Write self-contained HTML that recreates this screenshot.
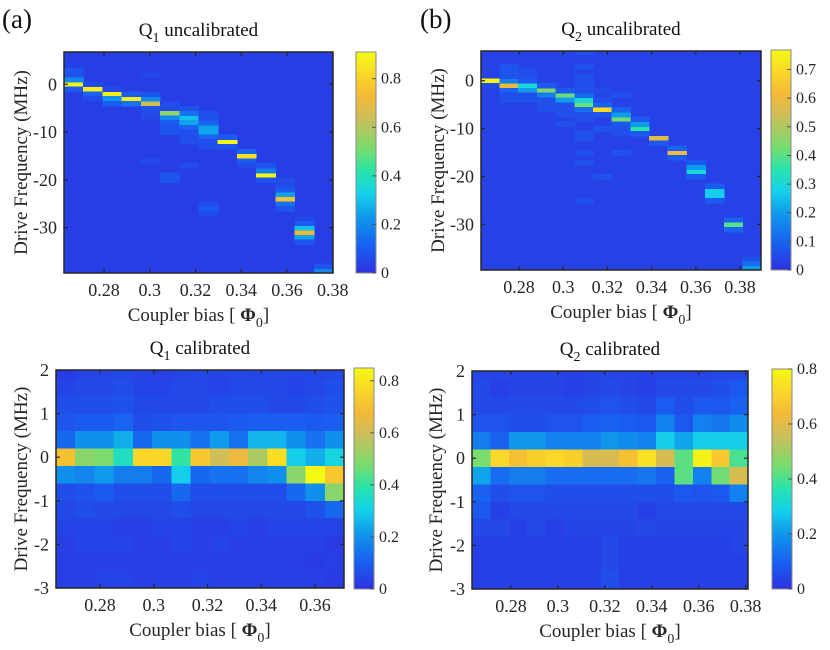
<!DOCTYPE html>
<html><head><meta charset="utf-8"><style>
html,body{margin:0;padding:0;background:#fff;}
svg{display:block;font-family:"Liberation Serif","DejaVu Serif",serif;}
svg text{font-family:"Liberation Serif","DejaVu Serif",serif;}
</style></head><body>
<svg id="fig" width="830" height="650" viewBox="0 0 830 650" xmlns="http://www.w3.org/2000/svg" font-family="Liberation Serif, DejaVu Serif, serif"></svg>
<script>
// ---------- DATA ----------
const biasA = [0.2667,0.2751,0.2835,0.2919,0.3003,0.3087,0.3171,0.3255,0.3339,0.3423,0.3507,0.3591,0.3675,0.3759];
const cellsA = [ // [col, freq(MHz), value]
[0,0,0.9],[0,1,0.2],[0,2,0.08],[0,3,0.08],[0,-1,0.1],
[1,-1,0.88],[1,-2,0.12],[1,-3,0.06],[1,0,0.06],
[2,-2,0.88],[2,-3,0.22],[2,-4,0.1],[2,-1,0.05],
[3,-3,0.88],[3,-4,0.15],[3,-2,0.1],
[4,-4,0.65],[4,-3,0.2],[4,-2,0.08],[4,-5,0.08],[4,-6,0.06],[4,-7,0.05],[4,2,0.05],[4,-16,0.06],
[5,-6,0.55],[5,-7,0.2],[5,-8,0.1],[5,-9,0.08],[5,-10,0.08],[5,-5,0.06],[5,-4,0.06],[5,-19,0.08],[5,-20,0.08],
[6,-7,0.3],[6,-8,0.25],[6,-6,0.15],[6,-9,0.12],[6,-5,0.08],[6,-10,0.07],[6,-11,0.07],[6,-12,0.07],[6,-17,0.06],
[7,-9,0.25],[7,-10,0.25],[7,-8,0.12],[7,-11,0.12],[7,-6,0.07],[7,-7,0.07],[7,-12,0.07],[7,-13,0.07],[7,-26,0.1],[7,-25,0.06],[7,-27,0.06],
[8,-12,0.9],[8,-11,0.1],[8,-13,0.08],
[9,-15,0.85],[9,-14,0.12],[9,-16,0.1],[9,-17,0.06],
[10,-19,0.9],[10,-18,0.18],[10,-17,0.08],[10,-20,0.08],
[11,-24,0.75],[11,-23,0.25],[11,-22,0.1],[11,-25,0.15],[11,-26,0.08],[11,-21,0.06],[11,-20,0.06],
[12,-31,0.72],[12,-30,0.3],[12,-32,0.25],[12,-29,0.1],[12,-33,0.08],[12,-28,0.05],
[13,-39,0.2],[13,-38,0.08]];
const biasB = [0.2670,0.2755,0.2839,0.2924,0.3008,0.3093,0.3177,0.3262,0.3346,0.3431,0.3515,0.3600,0.3684,0.3769,0.3853];
const cellsB = [
[0,0,0.76],[0,-1,0.05],
[1,-1,0.6],[1,0,0.15],[1,1,0.07],[1,2,0.07],[1,3,0.07],[1,-2,0.1],[1,-3,0.06],[1,-4,0.06],
[2,-1,0.3],[2,-2,0.2],[2,0,0.08],[2,1,0.06],[2,2,0.06],[2,-3,0.06],[2,-4,0.06],
[3,-2,0.45],[3,-3,0.15],[3,-1,0.08],[3,-4,0.06],[3,-5,0.06],[3,-6,0.06],
[4,-3,0.42],[4,-4,0.2],[4,-2,0.08],[4,-5,0.06],[4,-6,0.06],[4,-7,0.06],[4,-9,0.06],
[5,-5,0.42],[5,-4,0.3],[5,-3,0.12],[5,-6,0.12],[5,6,0.06],[5,3,0.06],[5,0,0.06],[5,1,0.06],[5,-1,0.06],[5,-2,0.06],[5,-7,0.06],[5,-8,0.06],[5,-11,0.06],[5,-12,0.06],[5,-15,0.06],[5,-17,0.06],[5,-25,0.06],
[6,-6,0.7],[6,-5,0.1],[6,-7,0.07],[6,-4,0.06],[6,-10,0.07],[6,-20,0.07],[6,-2,0.05],
[7,-8,0.42],[7,-7,0.2],[7,-6,0.1],[7,-9,0.08],[7,-10,0.06],[7,-11,0.06],[7,-15,0.07],[7,-3,0.06],
[8,-10,0.35],[8,-9,0.2],[8,-8,0.08],[8,-11,0.08],
[9,-12,0.58],[9,-13,0.08],
[10,-15,0.6],[10,-14,0.1],[10,-16,0.08],
[11,-19,0.3],[11,-18,0.2],[11,-17,0.08],[11,-20,0.08],
[12,-23,0.27],[12,-24,0.27],[12,-22,0.08],[12,-25,0.08],
[13,-30,0.4],[13,-29,0.1],[13,-31,0.1],
[14,-39,0.2],[14,-38,0.12],[14,-37,0.06]];
const biasC = [0.2672,0.2743,0.2815,0.2886,0.2958,0.3029,0.3101,0.3172,0.3244,0.3315,0.3387,0.3458,0.3530,0.3601,0.3673];
const freqCal = [2.0,1.6,1.2,0.8,0.4,0,-0.4,-0.8,-1.2,-1.6,-2.0,-2.4,-2.8];
const gridC = [
[.02,.04,.04,.05,.04,.03,.04,.05,.04,.05,.04,.05,.05,.04,.05],
[.04,.05,.05,.06,.04,.04,.05,.05,.04,.05,.05,.05,.04,.05,.06],
[.06,.06,.06,.07,.05,.05,.05,.05,.06,.06,.06,.05,.05,.06,.07],
[.08,.09,.09,.11,.06,.07,.08,.08,.08,.09,.10,.10,.10,.09,.10],
[.12,.2,.2,.25,.12,.2,.2,.14,.22,.14,.26,.26,.2,.14,.2],
[.7,.5,.48,.36,.76,.76,.4,.72,.6,.66,.55,.78,.3,.25,.32],
[.2,.18,.22,.16,.16,.12,.3,.12,.14,.14,.18,.2,.5,.85,.72],
[.06,.07,.09,.06,.06,.06,.12,.06,.06,.06,.06,.06,.12,.2,.5],
[.05,.06,.05,.05,.05,.05,.06,.05,.05,.05,.05,.05,.05,.07,.12],
[.04,.04,.04,.03,.03,.04,.04,.03,.03,.04,.03,.04,.04,.04,.04],
[.03,.04,.04,.04,.03,.03,.04,.03,.04,.03,.03,.03,.03,.03,.02],
[.03,.03,.03,.03,.03,.03,.03,.03,.03,.03,.03,.03,.03,.02,.03],
[.03,.03,.04,.04,.03,.03,.03,.04,.03,.03,.03,.03,.03,.03,.02]];
const biasD = [0.2673,0.2751,0.2830,0.2908,0.2987,0.3065,0.3144,0.3222,0.3300,0.3379,0.3457,0.3536,0.3614,0.3693,0.3771];
const gridD = [
[.04,.04,.04,.04,.04,.03,.04,.04,.04,.03,.04,.04,.04,.05,.05],
[.05,.03,.04,.04,.04,.03,.04,.05,.04,.03,.05,.05,.05,.06,.08],
[.05,.05,.05,.05,.05,.05,.06,.07,.06,.05,.09,.06,.08,.08,.1],
[.07,.07,.06,.06,.07,.07,.09,.1,.09,.08,.16,.08,.16,.14,.18],
[.15,.1,.2,.2,.16,.16,.16,.2,.18,.16,.28,.22,.28,.28,.28],
[.45,.72,.66,.7,.72,.7,.58,.58,.66,.74,.58,.42,.78,.68,.4],
[.22,.12,.15,.15,.12,.12,.12,.12,.12,.14,.1,.42,.16,.44,.58],
[.1,.06,.07,.07,.06,.06,.06,.06,.06,.06,.06,.08,.07,.08,.16],
[.08,.03,.05,.05,.05,.05,.05,.05,.05,.03,.05,.05,.05,.05,.05],
[.05,.05,.03,.05,.03,.04,.04,.04,.04,.05,.04,.04,.04,.04,.04],
[.03,.03,.03,.03,.03,.03,.03,.05,.03,.03,.03,.03,.03,.03,.04],
[.03,.03,.03,.03,.03,.03,.03,.05,.03,.03,.03,.03,.03,.03,.03],
[.03,.03,.03,.03,.03,.03,.03,.06,.03,.03,.03,.03,.03,.03,.03]];
const xTicksTop = [0.28,0.3,0.32,0.34,0.36,0.38];
const xTicksC = [0.28,0.3,0.32,0.34,0.36];
const yTicksUncal = [0,-10,-20,-30];
const yTicksCal = [2,1,0,-1,-2,-3];
const cbTicksA = [0,0.2,0.4,0.6,0.8];
const cbTicksB = [0,0.1,0.2,0.3,0.4,0.5,0.6,0.7];
const cbTicksC = [0,0.2,0.4,0.6,0.8];
const cbTicksD = [0,0.2,0.4,0.6,0.8];
const uncalBackground = 0.03;

// ---------- helpers ----------
const NS = 'http://www.w3.org/2000/svg';
const FONT = '"Liberation Serif","DejaVu Serif",serif';
const svg = document.getElementById('fig');
const stops = [[0,[45,50,225]],[0.12,[25,95,240]],[0.25,[15,150,235]],[0.36,[20,210,235]],[0.46,[40,228,170]],[0.56,[120,220,110]],[0.7,[205,190,90]],[0.8,[245,185,55]],[0.9,[250,215,40]],[1,[245,250,20]]];
function cmap(t){t=Math.max(0,Math.min(1,t));for(let i=1;i<stops.length;i++){if(t<=stops[i][0]){const a=stops[i-1],b=stops[i];const f=(t-a[0])/(b[0]-a[0]);const c=a[1].map((v,k)=>Math.round(v+(b[1][k]-v)*f));return `rgb(${c[0]},${c[1]},${c[2]})`;}}return 'rgb(245,250,20)';}
function mk(tag,attrs,parent){const e=document.createElementNS(NS,tag);for(const k in attrs)e.setAttribute(k,attrs[k]);if(tag==='text')e.style.fontFamily=FONT;(parent||svg).appendChild(e);return e;}
function fmt(v){return (Math.round(v*100)/100).toString();}

function panel(p){
  const g=mk('g',{});
  
  
  const sx=v=>p.x0+(v-p.xd[0])/(p.xd[1]-p.xd[0])*(p.x1-p.x0);
  const sy=v=>p.y1-(v-p.yd[0])/(p.yd[1]-p.yd[0])*(p.y1-p.y0);
  const clip='clip-'+p.name;
  const cp=mk('clipPath',{id:clip},g);
  mk('rect',{x:p.x0,y:p.y0,width:p.x1-p.x0,height:p.y1-p.y0},cp);
  const hm=mk('g',{'clip-path':`url(#${clip})`,'shape-rendering':'crispEdges'},g);
  
  
  const bias=p.bias;
  const w=bias[1]-bias[0];
  const cellRect=(ci,f,h,v)=>{
    const xa=sx(bias[ci]-w/2), xb=sx(bias[ci]+w/2);
    const ya=sy(f+h/2), yb=sy(f-h/2);
    const r=mk('rect',{x:xa.toFixed(2),y:ya.toFixed(2),width:(xb-xa+0.6).toFixed(2),height:(yb-ya+0.6).toFixed(2),fill:cmap(v/p.cmax)},hm);
    
    
  };
  if(p.cells){
    const bg=mk('rect',{x:p.x0,y:p.y0,width:p.x1-p.x0,height:p.y1-p.y0,fill:cmap(uncalBackground/p.cmax)},hm);
    
    
    p.cells.forEach(c=>cellRect(c[0],c[1],1,c[2]));
  } else {
    p.grid.forEach((row,ri)=>row.forEach((v,ci)=>cellRect(ci,p.freqs[ri],0.4,v)));
  }
  const box=mk('rect',{x:p.x0,y:p.y0,width:p.x1-p.x0,height:p.y1-p.y0,fill:'none',stroke:'#262626','stroke-width':1.5},g);
  
  
  p.xt.forEach(t=>{
    const x=sx(t);
    mk('line',{x1:x,y1:p.y1,x2:x,y2:p.y1-4,stroke:'#262626','stroke-width':1.2},g);
    mk('line',{x1:x,y1:p.y0,x2:x,y2:p.y0+4,stroke:'#262626','stroke-width':1.2},g);
    const tx=mk('text',{x:x,y:p.y1+23,'text-anchor':'middle','font-size':18,fill:'#262626'},g);
    tx.textContent=fmt(t);
    
    
  });
  p.yt.forEach(t=>{
    const y=sy(t);
    mk('line',{x1:p.x0,y1:y,x2:p.x0+4,y2:y,stroke:'#262626','stroke-width':1.2},g);
    mk('line',{x1:p.x1,y1:y,x2:p.x1-4,y2:y,stroke:'#262626','stroke-width':1.2},g);
    const tx=mk('text',{x:p.x0-7,y:y+6,'text-anchor':'end','font-size':18,fill:'#262626'},g);
    tx.textContent=String(t);
    
    
  });
  const cb=mk('g',{},g);
  
  
  const gid='grad-'+p.name;
  const gr=mk('linearGradient',{id:gid,x1:0,y1:1,x2:0,y2:0},cb);
  stops.forEach(s=>mk('stop',{offset:s[0],'stop-color':cmap(s[0])},gr));
  mk('rect',{x:p.cbx,y:p.cby0,width:20,height:p.cby1-p.cby0,fill:`url(#${gid})`,stroke:'#8a8a8a','stroke-width':1},cb);
  p.cbt.forEach(t=>{
    const y=p.cby1-t/p.cmax*(p.cby1-p.cby0);
    mk('line',{x1:p.cbx+20,y1:y,x2:p.cbx+16,y2:y,stroke:'#555','stroke-width':1},cb);
    const tx=mk('text',{x:p.cbx+25,y:y+5,'font-size':16,fill:'#262626'},cb);
    tx.textContent=fmt(t);
    
    
  });
  const cx=(p.x0+p.x1)/2;
  const tt=mk('text',{x:cx,y:p.y0-16,'text-anchor':'middle','font-size':19,fill:'#111'},g);
  tt.innerHTML=`Q<tspan font-size="14" dy="6">${p.q}</tspan><tspan dy="-6"> ${p.title}</tspan>`;
  
  
  const xl=mk('text',{x:cx,y:p.y1+48,'text-anchor':'middle','font-size':19,fill:'#262626'},g);
  xl.innerHTML=`Coupler bias [  <tspan font-weight="bold">Φ</tspan><tspan font-size="14" dy="6">0</tspan><tspan dy="-6">]</tspan>`;
  
  
  const yc=(p.y0+p.y1)/2;
  const yl=mk('text',{x:p.ylx,y:yc,'text-anchor':'middle','font-size':19,fill:'#262626',transform:`rotate(-90 ${p.ylx} ${yc})`},g);
  yl.textContent='Drive Frequency (MHz)';
  
  
}

panel({name:'panel-q1-uncalibrated',q:'1',title:'uncalibrated',x0:64,x1:333,y0:52,y1:273,xd:[0.2625,0.3801],yd:[-39.5,6.75],bias:biasA,cells:cellsA,cmax:0.91,cbx:356,cby0:52,cby1:273,cbt:cbTicksA,xt:xTicksTop,yt:yTicksUncal,ylx:27});
panel({name:'panel-q2-uncalibrated',q:'2',title:'uncalibrated',x0:481,x1:761,y0:51,y1:270,xd:[0.2628,0.3895],yd:[-39.5,6.2],bias:biasB,cells:cellsB,cmax:0.768,cbx:771,cby0:50,cby1:270,cbt:cbTicksB,xt:xTicksTop,yt:yTicksUncal,ylx:444});
panel({name:'panel-q1-calibrated',q:'1',title:'calibrated',x0:56,x1:344,y0:370,y1:588,xd:[0.2636,0.3708],yd:[-3,2],bias:biasC,grid:gridC,freqs:freqCal,cmax:0.849,cbx:354,cby0:368,cby1:589,cbt:cbTicksC,xt:xTicksC,yt:yTicksCal,ylx:27});
panel({name:'panel-q2-calibrated',q:'2',title:'calibrated',x0:472,x1:748,y0:371,y1:589,xd:[0.2634,0.381],yd:[-3,2],bias:biasD,grid:gridD,freqs:freqCal,cmax:0.8,cbx:772,cby0:369,cby1:589,cbt:cbTicksD,xt:xTicksTop,yt:yTicksCal,ylx:442});

const la=mk('text',{x:2,y:28,'font-size':27,fill:'#111'});la.textContent='(a)';


const lb=mk('text',{x:420,y:28,'font-size':27,fill:'#111'});lb.textContent='(b)';


</script>
</body></html>
